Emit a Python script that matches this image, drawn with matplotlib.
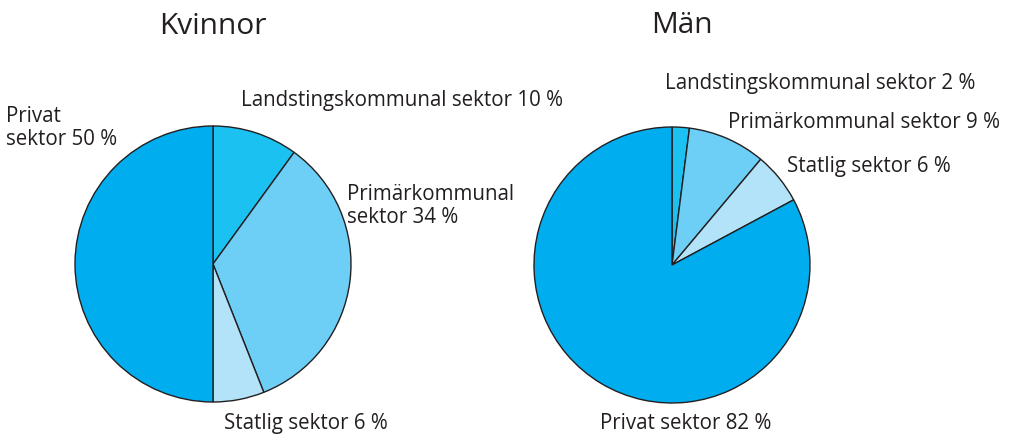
import matplotlib.pyplot as plt

# sectors, clockwise from 12 o'clock
sectors = ["Landstingskommunal", "Primärkommunal", "Statlig", "Privat"]
kvinnor = [10, 34, 6, 50]
man = [2, 9, 6, 82]

colors = ["#1bc1f1", "#6dcff6", "#b2e3f9", "#00aeef"]
text_col = "#231f20"
W, H = 1019, 436

fig = plt.figure(figsize=(W / 100, H / 100), dpi=100)
ax = fig.add_axes([0, 0, 1, 1])

def draw_pie(values, cx, cy):
    ax.pie(values, colors=colors, startangle=90, counterclock=False,
           center=(cx, H - cy), radius=138,
           wedgeprops=dict(edgecolor=text_col, linewidth=1.0))

draw_pie(kvinnor, 213, 264)
draw_pie(man, 672, 265)

ax.set_xlim(0, W)
ax.set_ylim(0, H)
ax.set_aspect("equal")
ax.axis("off")

font = "Open Sans"

def label(x, y, s, size=14.8, ha="left"):
    # y given in pixels from the top, as baseline
    ax.text(x, H - y, s, ha=ha, va="baseline", fontsize=size,
            color=text_col, family=font, linespacing=1.15)

label(213, 34, "Kvinnor", size=21.5, ha="center")
label(682, 33, "Män", size=21.5, ha="center")

label(241, 106, f"Landstingskommunal sektor {kvinnor[0]} %")
label(347, 223, f"Primärkommunal\nsektor {kvinnor[1]} %")
label(224, 429, f"Statlig sektor {kvinnor[2]} %")
label(6, 145, f"Privat\nsektor {kvinnor[3]} %")

label(665, 89, f"Landstingskommunal sektor {man[0]} %")
label(728, 128, f"Primärkommunal sektor {man[1]} %")
label(787, 172, f"Statlig sektor {man[2]} %")
label(600, 429, f"Privat sektor {man[3]} %")

plt.savefig("out.png", dpi=100)
